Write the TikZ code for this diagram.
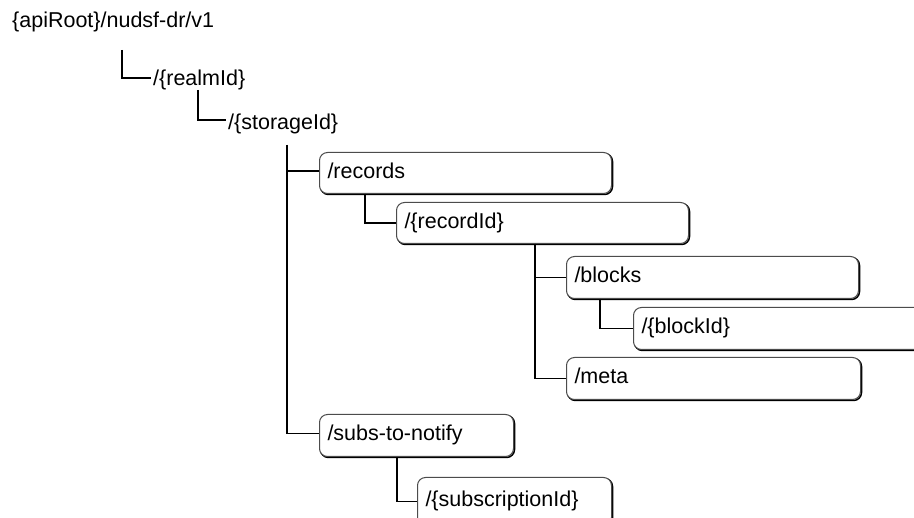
\documentclass[tikz,border=0pt]{standalone}
\usepackage{fontspec}
\setmainfont{Liberation Sans}
\usetikzlibrary{calc}
\begin{document}
\begin{tikzpicture}[x=1pt,y=-1pt,
  txt/.style={font=\fontsize{21.5}{24}\selectfont, text height=15pt, text depth=4pt},
  lbl/.style={txt, anchor=west, inner sep=0pt},
  rbox/.style={txt, anchor=north west, rounded corners=8pt, draw=black!70, line width=1pt,
    fill=white, inner xsep=8pt, inner ysep=0pt, align=left,
    preaction={draw=black, line width=1.5pt, transform canvas={shift={(1pt,-1pt)}}}},
  conn/.style={draw=black, line width=1.3pt}]
\useasboundingbox (0,0) rectangle (914,518);
\clip (0,0) rectangle (914,518);
\fill[white] (0,0) rectangle (914,518);

\node[lbl] (root) at (12,22) {\{apiRoot\}/nudsf-dr/v1};
\node[lbl] (realm) at (153,80) {/\{realmId\}};
\node[lbl] (storage) at (228,124) {/\{storageId\}};

\node[rbox, minimum width=292pt, minimum height=41pt, text width=276pt] (records) at (319,152) {/records};
\node[rbox, minimum width=292pt, minimum height=41pt, text width=276pt] (recordId) at (396,202) {/\{recordId\}};
\node[rbox, minimum width=292pt, minimum height=42pt, text width=276pt] (blocks) at (566,256) {/blocks};
\node[rbox, minimum width=330pt, minimum height=42pt, text width=314pt] (blockId) at (633,307) {/\{blockId\}};
\node[rbox, minimum width=294pt, minimum height=42pt, text width=278pt] (meta) at (566,357) {/meta};
\node[rbox, minimum width=194pt, minimum height=42pt, text width=178pt] (subs) at (319,414) {/subs-to-notify};
\node[rbox, minimum width=194pt, minimum height=48pt, text width=178pt] (subid) at (417,477) {/\{subscriptionId\}};

\coordinate (c1) at (122,50);
\coordinate (c2) at (198,90);
\coordinate (c3) at (287,145);
\draw[conn] (c1) |- ([xshift=-2pt,yshift=2pt]realm.west);
\draw[conn] (c2) |- ([xshift=-2pt,yshift=4pt]storage.west);
\draw[conn] (c3) |- ([yshift=2pt]records.west);
\draw[conn] (c3) |- ([yshift=2pt]subs.west);
\draw[conn] ($(records.south west)+(46,0)$) |- (recordId.west);
\draw[conn] ($(recordId.south west)+(139,0)$) |- (blocks.west);
\draw[conn] ($(recordId.south west)+(139,0)$) |- (meta.west);
\draw[conn] ($(blocks.south west)+(34,0)$) |- (blockId.west);
\draw[conn] ($(subs.south west)+(78,0)$) |- (subid.west);
\end{tikzpicture}
\end{document}
